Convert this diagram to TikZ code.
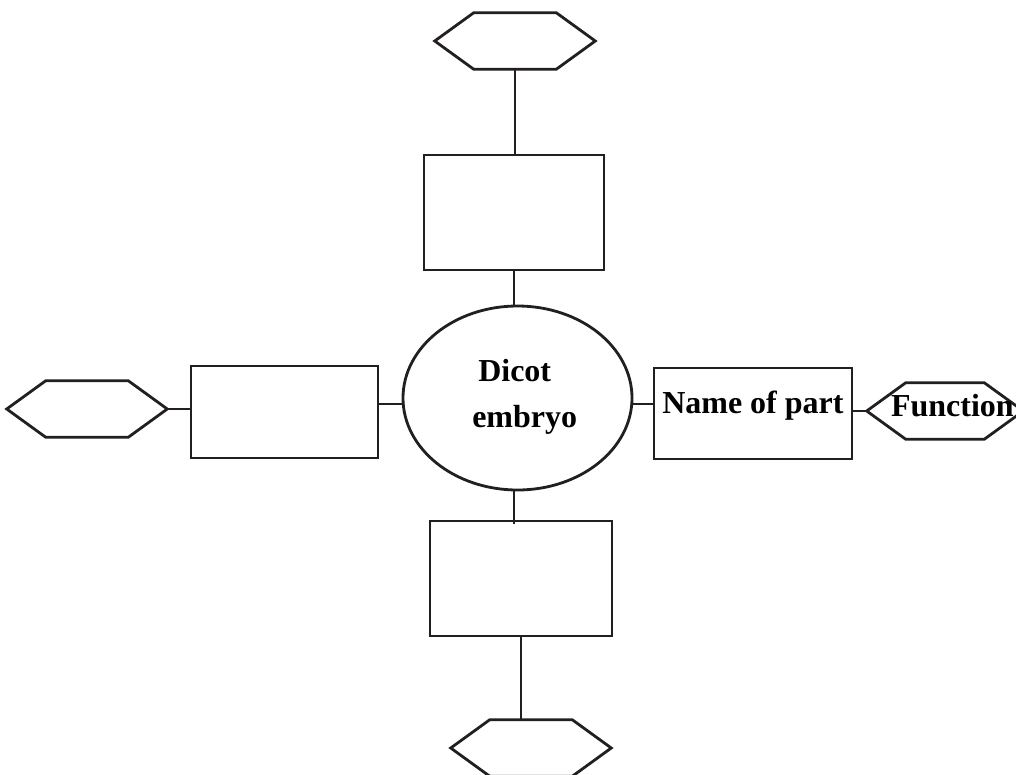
\documentclass[tikz,border=0pt]{standalone}
\usepackage{fontspec}
\setmainfont{Liberation Serif}
\usetikzlibrary{shapes.geometric}
\definecolor{ink}{HTML}{231F20}

% draw a flat hexagon on the frame of a (borderless) node
\newcommand\hexon[1]{%
  \draw[outline] (#1.west) -- ([xshift=29.25pt]#1.north west) -- ([xshift=-29.25pt]#1.north east)
    -- (#1.east) -- ([xshift=-29.25pt]#1.south east) -- ([xshift=29.25pt]#1.south west) -- cycle;}

\begin{document}
\begin{tikzpicture}[x=0.75pt,y=-0.75pt,
  outline/.style={draw=ink,line width=2.1pt,line join=miter},
  link/.style={draw=ink,line width=2.1pt},
  box/.style={outline,rectangle,inner sep=0pt,fill=white},
  hexframe/.style={rectangle,inner sep=0pt,minimum height=42pt},
  label/.style={font=\bfseries\fontsize{24}{28}\selectfont,text=black,inner sep=0pt}]
  \clip (0,0) rectangle (1016,774);
  \fill[white] (0,0) rectangle (1016,774);

  % central ellipse
  \node[outline,ellipse,inner sep=0pt,minimum width=171.75pt,minimum height=138pt] (e) at (517.5,398) {};
  \node[label,anchor=base west] (dicot) at (478,381) {Dicot};
  \node[label,anchor=base west] (embryo) at (472,427) {embryo};

  % part boxes
  \node[box,minimum width=135pt,minimum height=86.25pt] (tr) at (514,212.5) {};
  \node[box,minimum width=140.25pt,minimum height=69pt] (lr) at (284.5,412) {};
  \node[box,minimum width=148.5pt,minimum height=68.25pt] (rr) at (753,413.5) {};
  \node[box,minimum width=136.5pt,minimum height=86.25pt] (br) at (521,578.5) {};
  \node[label,anchor=base west] (name) at (662,413) {Name of part};

  % function hexagons
  \node[hexframe,minimum width=120pt] (th) at (515,41) {};
  \node[hexframe,minimum width=120pt] (lh) at (87,409) {};
  \node[hexframe,minimum width=117pt] (rh) at (945,411) {};
  \node[hexframe,minimum width=120pt] (bh) at (531,748) {};
  \hexon{th}\hexon{lh}\hexon{rh}\hexon{bh}
  \node[label,anchor=base east] (func) at (1014,416) {Function};

  % connectors
  \path (e.west) ++(0,6) coordinate (ew);
  \path (e.east) ++(0,6) coordinate (ee);
  \path (e.south) ++(-3.5,0) coordinate (es);
  \draw[link] (th.south) -- (th.south |- tr.north);
  \draw[link] (tr.south) -- (tr.south |- e.north);
  \draw[link] (ew) -- (ew -| lr.east);
  \draw[link] (lh.east) -- (lh.east -| lr.west);
  \draw[link] (ee) -- (ee -| rr.west);
  \draw[link] (rh.west -| rr.east) -- (rh.west);
  \draw[link] (es) -- ([yshift=-3pt]es |- br.north);
  \draw[link] (br.south) -- (br.south |- bh.north);
\end{tikzpicture}
\end{document}
